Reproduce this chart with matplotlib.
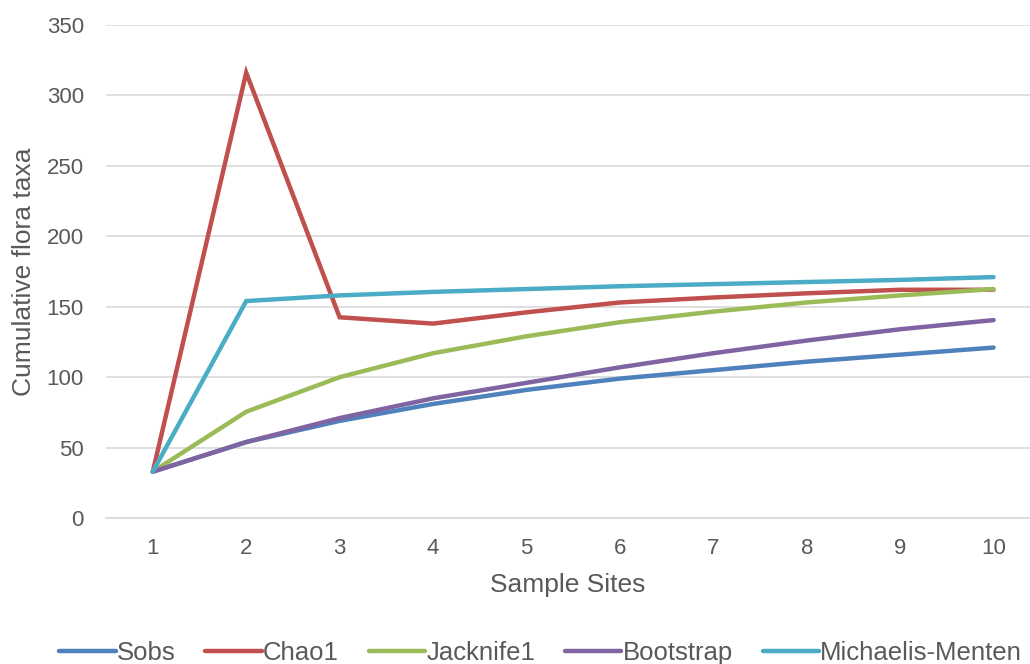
import matplotlib.pyplot as plt

plt.rcParams['font.family'] = ['Liberation Sans', 'DejaVu Sans']

sites = [1, 2, 3, 4, 5, 6, 7, 8, 9, 10]
sobs = [33, 54, 69, 81, 91, 99, 105, 111, 116, 121]
chao1 = [33, 316, 142.5, 138, 146, 153, 156.5, 159.5, 162, 162]
jacknife1 = [33, 75.5, 100, 117, 129, 139, 146.5, 153, 158, 162.5]
bootstrap = [33, 54, 71, 85, 96, 107, 117, 126, 134, 140.5]
michaelis = [33, 154, 158, 160.5, 162.5, 164.5, 166, 167.5, 169, 171]

series = [
    ("Sobs", sobs, "#4F81BD"),
    ("Chao1", chao1, "#C0504D"),
    ("Jacknife1", jacknife1, "#9BBB59"),
    ("Bootstrap", bootstrap, "#8064A2"),
    ("Michaelis-Menten", michaelis, "#4BACC6"),
]

fig = plt.figure(figsize=(10.3, 6.64), dpi=100)
ax = fig.add_axes([0.103, 0.2196, 0.897, 0.7432])

for name, vals, col in series:
    ax.plot(sites, vals, color=col, lw=3.2, label=name,
            solid_joinstyle='miter', solid_capstyle='round')

ax.set_xlim(0.5, 10.39)
ax.set_ylim(0, 350)
ax.set_yticks(range(0, 351, 50))
ax.set_xticks(sites)
ax.grid(axis='y', color='#D9D9D9', lw=1.2)
ax.set_axisbelow(True)
for s in ['top', 'right', 'left']:
    ax.spines[s].set_visible(False)
ax.spines['bottom'].set_color('#D9D9D9')
ax.spines['bottom'].set_linewidth(1.2)
ax.tick_params(length=0, labelsize=16, labelcolor='#595959')
ax.tick_params(axis='x', pad=14.5)
ax.tick_params(axis='y', pad=16)

ax.set_xlabel("Sample Sites", fontsize=19, color='#595959', labelpad=10)
ax.set_ylabel("Cumulative flora taxa", fontsize=19, color='#595959')
ax.yaxis.set_label_coords(-0.076, 0.5, transform=ax.transAxes)

fig.legend(loc='center', bbox_to_anchor=(0.525, 0.017), ncol=5,
           frameon=False, fontsize=18.5, handlelength=2.2, handletextpad=0.05,
           columnspacing=1.15, labelcolor='#595959')

fig.savefig("out.png", dpi=100)
